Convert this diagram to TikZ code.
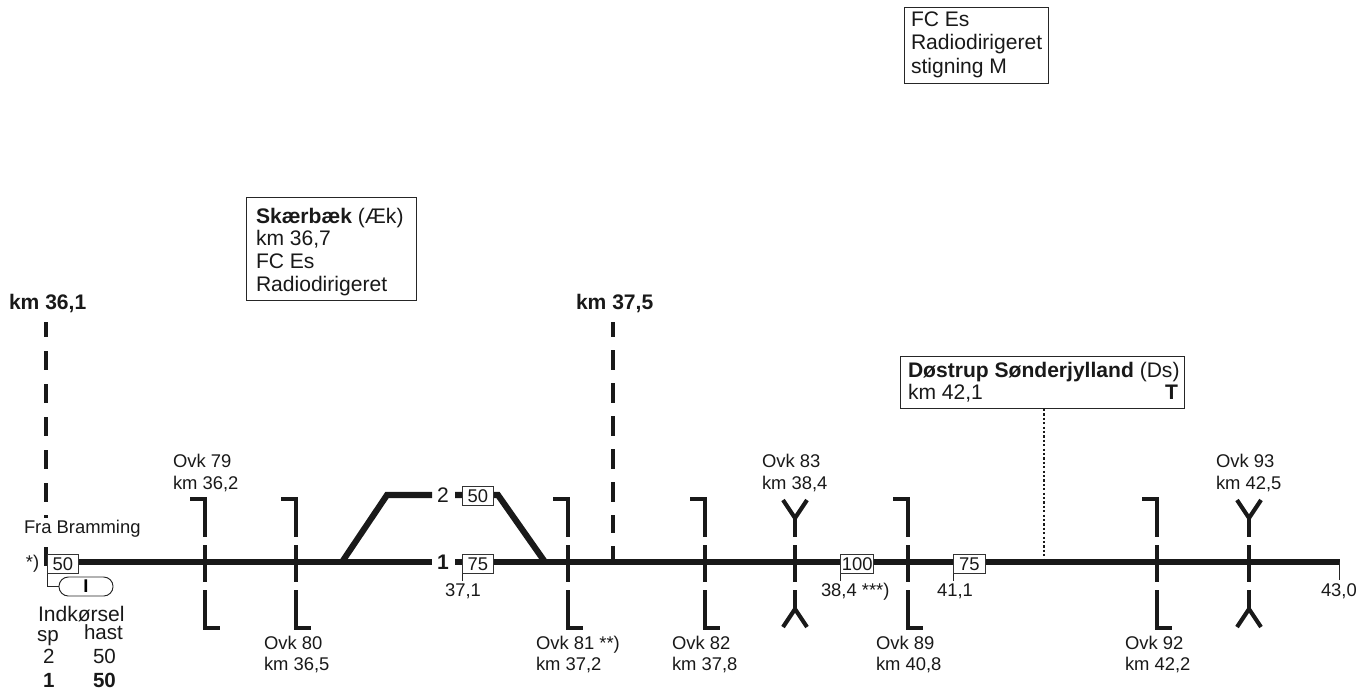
\documentclass[tikz,border=0pt]{standalone}
\usepackage{fontspec}
\setmainfont{Liberation Sans}
\newcommand{\smalltxt}{\fontsize{13.8}{16}\selectfont}
\newcommand{\boxtxt}{\fontsize{15.8}{18}\selectfont}
\newcommand{\tabtxt}{\fontsize{15.4}{18}\selectfont}
\tikzset{
  lbl/.style={inner sep=0pt,outer sep=0pt,anchor=base west,font=\smalltxt,text=black!90},
  blbl/.style={inner sep=0pt,outer sep=0pt,anchor=base west,font=\boxtxt,text=black!90},
  tlbl/.style={inner sep=0pt,outer sep=0pt,anchor=base west,font=\tabtxt,text=black!90},
  clbl/.style={inner sep=0pt,outer sep=0pt,anchor=base,font=\smalltxt,text=black!90},
  track/.style={line width=4.6pt,black!90,line join=miter},
  bar/.style={line width=3.1pt,black!90,line join=miter},
  speed/.style={draw=black!80,fill=white,line width=0.7pt,inner sep=0pt,minimum width=23pt,minimum height=14.5pt,font=\smalltxt,text=black!90},
  infobox/.style={draw=black!85,line width=0.7pt,fill=white,inner sep=0pt},
  thin/.style={line width=0.7pt,black!85},
}
\newcommand{\gate}[1]{%
  \draw[bar] (#1-15,499) -- (#1,499) -- (#1,537);
  \draw[bar] (#1,545) -- (#1,582);
  \draw[bar] (#1,590) -- (#1,628) -- (#1+15,628);}
\newcommand{\fork}[1]{%
  \draw[bar] (#1-12,500) -- (#1,518) -- (#1+12,500);
  \draw[bar] (#1,518) -- (#1,537);
  \draw[bar] (#1,545) -- (#1,582);
  \draw[bar] (#1,590) -- (#1,609);
  \draw[bar] (#1-12,627) -- (#1,609) -- (#1+12,627);}
\begin{document}
\begin{tikzpicture}[x=0.75pt,y=-0.75pt]
\useasboundingbox (0,0) rectangle (1359,690);
% signal lines
\draw[bar] (46,322) -- (46,337);
\draw[bar] (46,351) -- (46,370);
\draw[bar] (46,384) -- (46,403);
\draw[bar] (46,417) -- (46,436);
\draw[bar] (46,450) -- (46,469);
\draw[bar] (46,483) -- (46,502);
\draw[bar] (46,515) -- (46,518);
\draw[bar] (46,547) -- (46,566);
\draw[bar] (613,322) -- (613,337);
\draw[bar] (613,350) -- (613,370);
\draw[bar] (613,383) -- (613,403);
\draw[bar] (613,416) -- (613,436);
\draw[bar] (613,449) -- (613,469);
\draw[bar] (613,482) -- (613,502);
\draw[bar] (613,515) -- (613,533);
\draw[bar] (613,546) -- (613,562);
% track
\draw[track] (76,562) -- (432,562);
\draw[track] (455,562) -- (1340,562);
\draw[track] (342,562) -- (387,495) -- (432,495);
\draw[track] (455,495) -- (498,495) -- (545,562);
\gate{205}\gate{296}\gate{568}\gate{705}\gate{908}\gate{1157}
\fork{795}\fork{1249}
% info boxes
\node[infobox,minimum width=144pt*0.75,minimum height=76pt*0.75,anchor=north west] (boxfc) at (904,7) {};
\node[infobox,minimum width=170pt*0.75,minimum height=103pt*0.75,anchor=north west] (boxsk) at (246,197) {};
\node[infobox,minimum width=284pt*0.75,minimum height=52pt*0.75,anchor=north west] (boxds) at (900,356) {};
\draw[line width=2.1pt,black!90,dash pattern=on 1.7pt off 1.6pt] (boxds.south -| 1044,0) -- (1044,560);
\node[blbl] (fc1) at (911,26) {FC Es};
\node[blbl] (fc2) at (911,49) {Radiodirigeret};
\node[blbl] (fc3) at (911,73) {stigning M};
\node[blbl] (sk1) at (256,223) {\textbf{Skærbæk} (Æk)};
\node[blbl] (sk2) at (256,245) {km 36,7};
\node[blbl] (sk3) at (256,268) {FC Es};
\node[blbl] (sk4) at (256,291) {Radiodirigeret};
\node[blbl] (ds1) at (908,377) {\textbf{Døstrup Sønderjylland} (Ds)};
\node[blbl] (ds2) at (908,399) {km 42,1};
\node[blbl,anchor=base east] (ds3) at (1178,399) {\textbf{T}};
\node[blbl] (km1) at (9,309) {\textbf{km 36,1}};
\node[blbl] (km2) at (576,309) {\textbf{km 37,5}};
% speed boxes
\node[speed,anchor=north west] (v50a) at (47,554) {50};
\node[speed,anchor=north west] (v50b) at (462,486) {50};
\node[speed,anchor=north west] (v75a) at (462,554) {75};
\node[speed,anchor=north west,minimum width=25pt] (v100) at (840,554) {100};
\node[speed,anchor=north west,minimum width=24pt] (v75b) at (953,554) {75};
\draw[thin] (v75a.south west) -- ++(0,7);
\draw[thin] (v100.south west) -- ++(0,7);
\draw[thin] (v75b.south west) -- ++(0,7);
\coordinate (trackend) at (1339.5,562);
\draw[thin] (trackend) -- ++(0,18);
% entry indicator
\node[draw=black!85,fill=white,line width=0.7pt,rounded corners=7pt,minimum width=54pt*0.75,minimum height=19pt*0.75,inner sep=0pt,anchor=center,font=\smalltxt\bfseries] (pill) at (86,586.5) {I};
\draw[thin] (v50a.south west) |- (pill.west);
% labels
\node[lbl] (fra) at (24,533) {Fra Bramming};
\node[lbl] (star) at (26,568) {*)};
\node[blbl] (ind) at (38,621) {Indkørsel};
\node[tlbl] (sp) at (37,641) {sp};
\node[tlbl] (hast) at (84,639) {hast};
\node[tlbl] (sp2) at (43,663) {2};
\node[tlbl] (h50) at (93,663) {50};
\node[tlbl] (sp1) at (43,687) {\textbf{1}};
\node[tlbl] (h50b) at (93,687) {\textbf{50}};
\node[clbl] (t2) at (443,502) {\boxtxt 2};
\node[clbl] (t1) at (443,569) {\boxtxt\textbf{1}};
\node[clbl] (k371) at (463,596) {37,1};
\node[lbl] (k384) at (821,596) {38,4 ***)};
\node[clbl] (k411) at (955,596) {41,1};
\node[lbl] (k430) at (1321,596) {43,0};
\node[lbl] (o79a) at (173,467.5) {Ovk 79};
\node[lbl] (o79b) at (173,489) {km 36,2};
\node[lbl] (o83a) at (762,467.5) {Ovk 83};
\node[lbl] (o83b) at (762,489) {km 38,4};
\node[lbl] (o93a) at (1216,467.5) {Ovk 93};
\node[lbl] (o93b) at (1216,489) {km 42,5};
\node[lbl] (o80a) at (264,649.5) {Ovk 80};
\node[lbl] (o80b) at (264,670.5) {km 36,5};
\node[lbl] (o81a) at (536,649.5) {Ovk 81 **)};
\node[lbl] (o81b) at (536,670.5) {km 37,2};
\node[lbl] (o82a) at (672,649.5) {Ovk 82};
\node[lbl] (o82b) at (672,670.5) {km 37,8};
\node[lbl] (o89a) at (876,649.5) {Ovk 89};
\node[lbl] (o89b) at (876,670.5) {km 40,8};
\node[lbl] (o92a) at (1125,649.5) {Ovk 92};
\node[lbl] (o92b) at (1125,670.5) {km 42,2};
\end{tikzpicture}
\end{document}
